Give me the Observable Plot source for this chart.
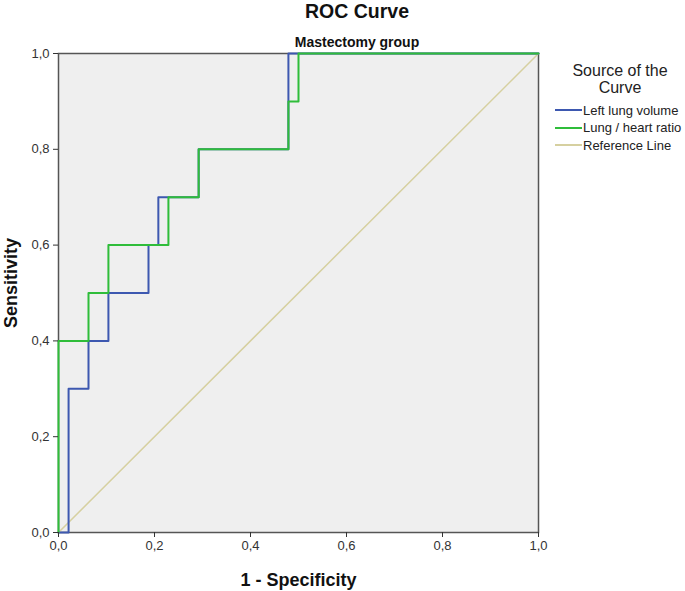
<!DOCTYPE html>
<html>
<head>
<meta charset="utf-8">
<script src="https://cdn.jsdelivr.net/npm/d3@7"></script>
<script src="https://cdn.jsdelivr.net/npm/@observablehq/plot@0.6"></script>
<style>
  body { margin: 0; background: #fff; font-family: "Liberation Sans", Arial, sans-serif; }
  #wrap { position: relative; width: 685px; height: 591px; }
  #wrap > svg { position: absolute; left: 0; top: 0; }
  .title { position: absolute; left: 257px; width: 200px; text-align: center; font-weight: bold; color: #111; white-space: nowrap; }
  #legend { position: absolute; left: 555px; top: 62px; width: 130px; color: #222; }
  #legend .lt { text-align: center; font-size: 16px; line-height: 17px; }
  #legend .item { display: flex; align-items: center; font-size: 13px; height: 17.5px; white-space: nowrap; }
  #legend .item svg { margin-right: 1px; }
</style>
</head>
<body>
<div id="wrap"></div>
<script>
// Data
const chartTitle = "ROC Curve";
const subTitle = "Mastectomy group";
const xLabel = "1 - Specificity";
const yLabel = "Sensitivity";
const legendTitle = ["Source of the", "Curve"];
const seriesNames = ["Left lung volume", "Lung / heart ratio", "Reference Line"];
const seriesColors = ["#3d58b0", "#2fbd3a", "#d6d0a0"];

// Left lung volume: 1-specificity and sensitivity (step points)
const leftX = [0, 0.021, 0.0625, 0.104, 0.1875, 0.208, 0.292, 0.479, 1];
const leftY = [0, 0.3, 0.4, 0.5, 0.6, 0.7, 0.8, 1.0, 1.0];
// Lung / heart ratio
const ratioX = [0, 0, 0.0625, 0.104, 0.229, 0.292, 0.479, 0.5, 1];
const ratioY = [0, 0.4, 0.5, 0.6, 0.7, 0.8, 0.9, 1.0, 1.0];
// Reference diagonal
const refX = [0, 1];
const refY = [0, 1];

const ticks = [0, 0.2, 0.4, 0.6, 0.8, 1.0];
const tickLabels = ["0,0", "0,2", "0,4", "0,6", "0,8", "1,0"];

const toPts = (xs, ys) => xs.map((x, i) => ({x, y: ys[i]}));
const left = toPts(leftX, leftY);
const ratio = toPts(ratioX, ratioY);
const ref = toPts(refX, refY);
const fmt = d => tickLabels[ticks.findIndex(t => Math.abs(t - d) < 1e-9)];

const plot = Plot.plot({
  width: 685,
  height: 591,
  marginLeft: 58,
  marginRight: 147,
  marginTop: 53,
  marginBottom: 59,
  style: {fontFamily: "Liberation Sans, Arial, sans-serif", fontSize: "13px", color: "#333", background: "transparent"},
  x: {domain: [0, 1]},
  y: {domain: [0, 1]},
  marks: [
    Plot.frame({fill: "#efefef", stroke: "#555", strokeWidth: 1.5}),
    Plot.line(ref, {x: "x", y: "y", stroke: seriesColors[2], strokeWidth: 1.5}),
    Plot.line(left, {x: "x", y: "y", curve: "step-after", stroke: seriesColors[0], strokeWidth: 2}),
    Plot.line(ratio, {x: "x", y: "y", curve: "step-after", stroke: seriesColors[1], strokeWidth: 2}),
    Plot.axisX({ticks, tickFormat: () => "", tickSize: 5, label: xLabel, labelArrow: "none", labelAnchor: "center", labelOffset: 53, stroke: "#333"}),
    Plot.axisY({ticks, tickFormat: () => "", tickSize: 5, label: yLabel, labelArrow: "none", labelAnchor: "center", labelOffset: 54, stroke: "#333"}),
    // tick labels
    Plot.text(ticks, {x: d => d, text: fmt, frameAnchor: "bottom", dy: 17, fontSize: 13, fill: "#333"}),
    Plot.text(ticks, {y: d => d, text: fmt, frameAnchor: "left", dx: -9, textAnchor: "end", fontSize: 13, fill: "#333"})
  ]
});
// style axis labels (bold, larger, no arrow)
const sel = d3.select(plot);
sel.selectAll("g[aria-label='x-axis label'] text, g[aria-label='y-axis label'] text")
  .style("font-weight", "bold").style("font-size", "18px").style("fill", "#111")
  .text(function() { return this.textContent.replace(/\s*[←→↑↓]\s*/g, ""); });
const yl = sel.select("g[aria-label='y-axis label']");
yl.attr("transform", ((yl.attr("transform") || "") + " translate(0,-10)").trim());

const wrap = document.getElementById("wrap");
wrap.appendChild(plot);

const t1 = document.createElement("div");
t1.className = "title"; t1.style.top = "0px"; t1.style.fontSize = "19.5px"; t1.style.lineHeight = "22px"; t1.textContent = chartTitle;
wrap.appendChild(t1);
const t2 = document.createElement("div");
t2.className = "title"; t2.style.top = "35px"; t2.style.fontSize = "14px"; t2.style.lineHeight = "14px"; t2.textContent = subTitle;
wrap.appendChild(t2);

const lg = document.createElement("div");
lg.id = "legend";
lg.innerHTML = `<div class="lt">${legendTitle.join("<br>")}</div><div style="height:5.5px"></div>` +
  seriesNames.map((n, i) => `<div class="item"><svg width="27" height="4"><line x1="0" y1="2" x2="27" y2="2" stroke="${seriesColors[i]}" stroke-width="2"/></svg>${n}</div>`).join("");
wrap.appendChild(lg);
</script>
</body>
</html>
